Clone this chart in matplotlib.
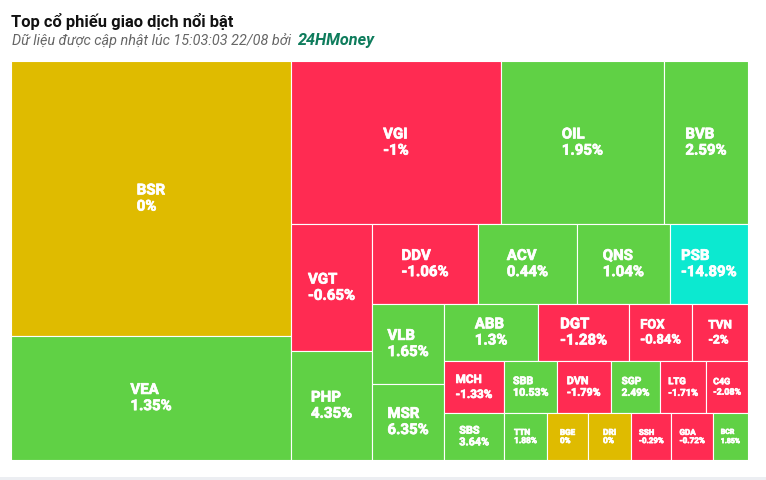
import numpy as np
import matplotlib.pyplot as plt
import matplotlib.patheffects as pe
from matplotlib.patches import Rectangle

# ma co phieu, xep theo gia tri giao dich (giam dan)
tickers = ['BSR', 'VEA', 'VGI', 'OIL', 'BVB', 'VGT', 'PHP', 'DDV', 'ACV', 'QNS',
           'PSB', 'VLB', 'MSR', 'ABB', 'DGT', 'FOX', 'TVN', 'MCH', 'SBS', 'SBB',
           'DVN', 'SGP', 'LTG', 'C4G', 'TTN', 'BGE', 'DRI', 'SSH', 'GDA', 'BCR']
values = [770, 347, 342, 266, 137, 103, 88, 84.5, 79, 74,
          62.4, 57.6, 54.7, 53.6, 51.9, 35.9, 31.8, 31.2, 28.2, 27.6,
          27.8, 25.8, 23.8, 21.8, 20.2, 19.3, 20.2, 19.0, 19.5, 16.5]
changes = [0, 1.35, -1, 1.95, 2.59, -0.65, 4.35, -1.06, 0.44, 1.04,
           -14.89, 1.65, 6.35, 1.3, -1.28, -0.84, -2, -1.33, 3.64, 10.53,
           -1.79, 2.49, -1.71, -2.08, 1.88, 0, 0, -0.29, -0.72, 1.85]
floor_tickers = ['PSB']

GREEN = '#60d145'
RED = '#ff2b52'
YELLOW = '#dfbb00'
CYAN = '#0ce9d0'

FONT = ['Roboto', 'DejaVu Sans']


def ratio(a, b):
    if np.isnan(a) or np.isnan(b) or a == 0 or b == 0:
        return float('nan')
    return max(a / b, b / a)


def squarified(vals, x0, y0, width, height):
    # same idea as the highcharts "squarified" layout (direction alternates)
    nan = float('nan')
    areas = [width * height * v / sum(vals) for v in vals]
    out = []
    g = dict(w=width, h=height, d=0, total=0.0, els=[],
             nW=0.0, lW=0.0, nH=0.0, lH=0.0, lR=nan, nR=nan)
    pos = [x0, y0]

    def add(el):
        prev = g['els'][-1] if g['els'] else nan
        g['total'] += el
        if g['d'] == 0:
            g['lW'] = g['nW']
            lh = prev / g['lW'] if g['lW'] else nan
            g['lR'] = ratio(g['lW'], lh)
            g['nW'] = g['total'] / g['h']
            g['nR'] = ratio(g['nW'], prev / g['nW'])
        else:
            g['lH'] = g['nH']
            lw = prev / g['lH'] if g['lH'] else nan
            g['lR'] = ratio(lw, g['lH'])
            g['nH'] = g['total'] / g['w']
            g['nR'] = ratio(prev / g['nH'], g['nH'])
        g['els'].append(el)

    def calc(last):
        gw, gh = (g['nW'], g['nH']) if last else (g['lW'], g['lH'])
        keep = None if last else g['els'][-1]
        els = g['els'] if last else g['els'][:-1]
        for p in els:
            if g['d'] == 0:
                out.append((pos[0], pos[1], gw, p / gw))
                pos[1] += p / gw
            else:
                out.append((pos[0], pos[1], p / gh, gh))
                pos[0] += p / gh
        g['els'] = []
        g['total'] = 0.0
        g['nW'] = 0.0
        g['lW'] = 0.0
        if g['d'] == 0:
            g['w'] -= gw
        else:
            g['h'] -= gh
        pos[0] = x0 + (width - g['w'])
        pos[1] = y0 + (height - g['h'])
        g['d'] = 1 - g['d']
        if not last:
            add(keep)

    for i, a in enumerate(areas):
        add(a)
        if g['nR'] > g['lR']:
            calc(False)
        if i == len(areas) - 1:
            calc(True)
    return out


fig = plt.figure(figsize=(7.66, 4.80), dpi=100)
W, H = 737, 399
ax = fig.add_axes([11 / 766, 20 / 480, W / 766, H / 480])
ax.set_xlim(0, W)
ax.set_ylim(H, 0)
ax.axis('off')

rects = squarified(values, 0, 0, W, H)

for (x, y, w, h), name, chg in zip(rects, tickers, changes):
    if name in floor_tickers:
        c = CYAN
    elif chg > 0:
        c = GREEN
    elif chg < 0:
        c = RED
    else:
        c = YELLOW
    ax.add_patch(Rectangle((x, y), w, h, facecolor=c, edgecolor='white', linewidth=0.8))
    # font shrinks for the small boxes
    fs_px = np.clip(0.31 * np.sqrt(w * h) - 5.6, 6.5, 15)
    ax.text(x + w / 2, y + h / 2, f"{name}\n{chg:g}%", ha='center', va='center',
            multialignment='left', color='white', fontsize=fs_px * 0.72,
            fontweight='bold', family=FONT, linespacing=1.2,
            path_effects=[pe.withStroke(linewidth=0.5, foreground='white')])

# title + subtitle
fig.text(11 / 766, 1 - 26.5 / 480, 'Top cổ phiếu giao dịch nổi bật', fontsize=11.9,
         fontweight='bold', family=FONT, color='#111111', va='baseline')
sub = fig.text(11.5 / 766, 1 - 45 / 480, 'Dữ liệu được cập nhật lúc 15:03:03 22/08 bởi ',
               fontsize=10.4, fontstyle='italic', family=FONT, color='#666666', va='baseline')
ax.annotate('24HMoney', xy=(1, 0), xycoords=sub, xytext=(3, 0), textcoords='offset points',
            fontsize=11.7, fontweight='bold', fontstyle='italic', family=FONT,
            color='#0e7c5c', va='bottom', annotation_clip=False)

fig.add_artist(Rectangle((0, 0), 1, 3 / 480, transform=fig.transFigure,
                         facecolor='#eceef2', edgecolor='none'))

fig.savefig('out.png', dpi=100)
